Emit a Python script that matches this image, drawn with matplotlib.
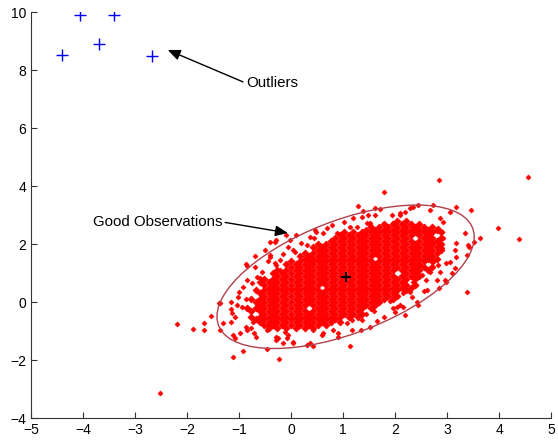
import numpy as np
import matplotlib
matplotlib.use('Agg')
import matplotlib.pyplot as plt
from matplotlib.patches import Ellipse

plt.rcParams['font.family'] = ['Liberation Sans', 'DejaVu Sans']

# outliers (blue +)
out_x = [-4.40, -4.05, -3.40, -3.70, -2.68]
out_y = [8.52, 9.90, 9.90, 8.90, 8.48]

# dense core of the good observations, one row per y level
core_y = [2.8, 2.7, 2.6, 2.5, 2.4, 2.3, 2.2, 2.1, 2.0, 1.9, 1.8, 1.7, 1.6, 1.5,
          1.4, 1.3, 1.2, 1.1, 1.0, 0.9, 0.8, 0.7, 0.6, 0.5, 0.4, 0.3, 0.2,
          0.1, 0.0, -0.1, -0.2, -0.3, -0.4, -0.5, -0.6, -0.7, -0.8, -0.9]
core_x = [
    [2.04, 2.21],
    [1.79, 1.96, 2.13, 2.3, 2.47],
    [1.53, 1.7, 1.87, 2.04, 2.21, 2.38, 2.55, 2.72],
    [1.45, 1.62, 1.79, 1.96, 2.13, 2.3, 2.47, 2.64, 2.81],
    [1.02, 1.19, 1.36, 1.53, 1.7, 1.87, 2.04, 2.21, 2.38, 2.55, 2.72, 2.89],
    [0.94, 1.11, 1.28, 1.45, 1.62, 1.79, 1.96, 2.13, 2.3, 2.47, 2.64],
    [0.85, 1.02, 1.19, 1.36, 1.53, 1.7, 1.87, 2.04, 2.21, 2.55, 2.72, 2.89],
    [0.77, 0.94, 1.11, 1.28, 1.45, 1.62, 1.79, 1.96, 2.13, 2.3, 2.47, 2.64, 2.81],
    [0.51, 0.68, 0.85, 1.02, 1.19, 1.36, 1.53, 1.7, 1.87, 2.04, 2.21, 2.38, 2.55, 2.72, 2.89],
    [0.43, 0.6, 0.77, 0.94, 1.11, 1.28, 1.45, 1.62, 1.79, 1.96, 2.13, 2.3, 2.47, 2.64, 2.81],
    [0.51, 0.68, 0.85, 1.02, 1.19, 1.36, 1.53, 1.7, 1.87, 2.04, 2.21, 2.38, 2.55, 2.72, 2.89],
    [0.26, 0.43, 0.6, 0.77, 0.94, 1.11, 1.28, 1.45, 1.62, 1.79, 1.96, 2.13, 2.3, 2.47, 2.64, 2.81],
    [0.17, 0.34, 0.51, 0.68, 0.85, 1.02, 1.19, 1.36, 1.53, 1.7, 1.87, 2.04, 2.21, 2.38, 2.55, 2.72],
    [0.26, 0.43, 0.6, 0.77, 0.94, 1.11, 1.28, 1.45, 1.79, 1.96, 2.13, 2.3, 2.47, 2.64, 2.81],
    [0.0, 0.17, 0.34, 0.51, 0.68, 0.85, 1.02, 1.19, 1.36, 1.53, 1.7, 1.87, 2.04, 2.21, 2.38, 2.55, 2.72],
    [-0.09, 0.09, 0.26, 0.43, 0.6, 0.77, 0.94, 1.11, 1.28, 1.45, 1.62, 1.79, 1.96, 2.13, 2.3, 2.47],
    [0.0, 0.17, 0.34, 0.51, 0.68, 0.85, 1.02, 1.19, 1.36, 1.53, 1.7, 1.87, 2.04, 2.21, 2.38, 2.55, 2.72],
    [-0.26, -0.09, 0.09, 0.26, 0.43, 0.6, 0.77, 0.94, 1.11, 1.28, 1.45, 1.62, 1.79, 1.96, 2.13, 2.3, 2.47, 2.64],
    [-0.34, -0.17, 0.0, 0.17, 0.34, 0.51, 0.68, 0.85, 1.02, 1.19, 1.36, 1.53, 1.7, 1.87, 2.21, 2.38],
    [-0.26, -0.09, 0.09, 0.26, 0.43, 0.6, 0.77, 0.94, 1.11, 1.28, 1.45, 1.62, 1.79, 1.96, 2.13, 2.3, 2.47],
    [-0.51, -0.34, -0.17, 0.0, 0.17, 0.34, 0.51, 0.68, 0.85, 1.02, 1.19, 1.36, 1.53, 1.7, 1.87, 2.04, 2.21, 2.38],
    [-0.6, -0.43, -0.26, -0.09, 0.09, 0.26, 0.43, 0.6, 0.77, 0.94, 1.11, 1.28, 1.45, 1.62, 1.79, 1.96, 2.13],
    [-0.51, -0.34, -0.17, 0.0, 0.17, 0.34, 0.51, 0.68, 0.85, 1.02, 1.19, 1.36, 1.53, 1.7, 1.87, 2.04, 2.21, 2.38],
    [-0.43, -0.26, -0.09, 0.09, 0.26, 0.43, 0.77, 0.94, 1.11, 1.28, 1.45, 1.62, 1.79, 1.96, 2.13, 2.3],
    [-0.68, -0.51, -0.34, -0.17, 0.0, 0.17, 0.34, 0.51, 0.68, 0.85, 1.02, 1.19, 1.36, 1.53, 1.7, 1.87, 2.04, 2.21],
    [-0.6, -0.43, -0.26, -0.09, 0.09, 0.26, 0.43, 0.6, 0.77, 0.94, 1.11, 1.28, 1.45, 1.62, 1.79, 1.96],
    [-0.51, -0.34, -0.17, 0.0, 0.17, 0.34, 0.51, 0.68, 0.85, 1.02, 1.19, 1.36, 1.53, 1.7, 1.87, 2.04],
    [-0.77, -0.6, -0.43, -0.26, -0.09, 0.09, 0.26, 0.43, 0.6, 0.77, 0.94, 1.11, 1.28, 1.45, 1.62, 1.79, 1.96],
    [-0.68, -0.51, -0.34, -0.17, 0.0, 0.17, 0.34, 0.51, 0.68, 0.85, 1.02, 1.19, 1.36, 1.53, 1.7],
    [-0.6, -0.43, -0.26, -0.09, 0.09, 0.26, 0.43, 0.6, 0.77, 0.94, 1.11, 1.28, 1.45, 1.62],
    [-0.85, -0.68, -0.51, -0.34, -0.17, 0.0, 0.17, 0.51, 0.68, 0.85, 1.02, 1.19, 1.36, 1.53],
    [-0.77, -0.6, -0.43, -0.26, -0.09, 0.09, 0.26, 0.43, 0.6, 0.77, 0.94, 1.11, 1.28],
    [-0.51, -0.34, -0.17, 0.0, 0.17, 0.34, 0.51, 0.68, 0.85, 1.02, 1.19, 1.36],
    [-0.77, -0.6, -0.43, -0.26, -0.09, 0.09, 0.26, 0.43, 0.6, 0.77, 0.94, 1.11, 1.28],
    [-0.68, -0.51, -0.34, -0.17, 0.0, 0.17, 0.34, 0.51, 0.68, 0.85],
    [-0.6, -0.43, -0.26, -0.09, 0.09, 0.26, 0.43, 0.6, 0.77, 0.94],
    [-0.51, -0.34, -0.17, 0.0, 0.17, 0.34, 0.51, 0.68],
    [-0.43, -0.26, -0.09, 0.09, 0.26, 0.43],
]

# scattered good observations around the core
spread = [
    (-2.52, -3.15), (-2.20, -0.76), (-1.88, -0.93), (-1.67, -0.71), (-1.67, -0.97),
    (-1.53, -0.47), (-1.38, -0.02), (-1.37, -0.97), (-1.16, 0.01), (-1.16, -0.24),
    (-1.16, -0.68), (-1.02, 0.18), (-1.04, -0.10), (-0.95, -0.17), (-0.87, 0.10),
    (-1.12, -1.14), (-1.08, -1.24), (-0.98, -1.06), (-0.87, -0.86), (-0.73, -0.68),
    (-0.76, -0.90), (-0.67, -1.20), (-0.93, -1.68), (-1.12, -1.89), (-0.47, -1.63),
    (-0.23, -1.97), (-0.29, -1.31), (-0.47, -0.97), (-0.44, -0.79), (-0.25, -1.24),
    (-0.69, 1.60), (-0.40, 1.62), (-0.87, 1.31), (-0.85, 1.24), (-0.29, 1.28),
    (-0.60, 0.83), (-0.66, 0.87), (-0.92, 0.53), (-1.37, -0.05), (-1.14, -0.39),
    (-1.08, -0.51), (-1.30, -0.73), (-0.85, -0.97), (-0.72, -1.08), (-0.28, -1.20),
    (-0.15, -1.43), (0.04, -1.37), (-0.21, 1.10), (-0.40, 1.56), (-0.21, 1.45),
    (-0.05, 1.91), (0.08, 1.73), (0.37, 2.25), (0.49, 2.42), (0.69, 2.54),
    (0.78, 2.66), (1.01, 2.77), (1.20, 2.89), (1.36, 2.94), (1.62, 3.00),
    (-0.40, 2.08), (-0.28, 2.14), (-0.02, 2.14), (1.13, -1.51), (0.91, -1.22),
    (0.37, -1.43), (0.30, -1.48), (0.43, -1.52), (0.04, -1.43), (-0.12, -1.02),
    (-0.05, -1.14), (-0.08, -1.25), (0.43, -0.97), (0.62, -1.08), (0.81, -0.97),
    (1.17, -0.97), (1.52, -0.85), (1.78, -0.51), (1.36, -0.62), (1.07, -0.73),
    (1.17, -0.62), (2.03, -0.16), (0.91, -1.08), (0.59, -1.14), (0.78, -0.62),
    (0.45, 2.20), (0.62, 2.37), (0.88, 2.37), (1.26, 2.60), (1.52, 2.73),
    (-0.31, 2.08), (-0.31, 1.33), (0.04, 1.79), (1.78, 3.80), (1.29, 3.31),
    (1.39, 3.15), (1.49, 3.00), (1.62, 3.23), (1.71, 3.20), (0.46, 2.48),
    (1.13, 2.60), (1.46, 2.71), (1.52, 2.66), (1.97, 2.71), (2.10, 3.06),
    (1.94, 3.00), (2.85, 4.21), (3.46, 3.17), (3.99, 2.56), (3.63, 2.20),
    (3.39, 0.36), (3.18, 3.29), (3.06, 3.11), (2.87, 2.89), (2.93, 2.77),
    (2.74, 3.34), (2.67, 3.17), (2.45, 3.34), (2.29, 3.23), (2.35, 3.29),
    (2.19, 3.11), (2.10, 3.00), (3.35, 2.37), (3.41, 1.97), (3.43, 1.91),
    (3.51, 2.08), (3.18, 2.02), (3.15, 1.79), (3.38, 1.62), (3.18, 1.56),
    (2.99, 1.33), (3.06, 1.39), (2.83, 1.28), (2.87, 1.04), (3.15, 1.16),
    (2.96, 0.76), (2.99, 0.70), (2.80, 0.76), (2.61, 0.41), (2.55, 0.38),
    (2.42, 0.01), (2.45, -0.10), (2.10, -0.10), (2.16, -0.16), (1.97, -0.22),
    (2.83, 2.55), (2.90, 2.42), (2.93, 2.20), (2.90, 1.85), (2.67, 1.85),
    (2.74, 2.08), (2.71, 1.56), (2.74, 1.39), (2.67, 1.04), (2.48, 1.28),
    (2.51, 0.93), (2.35, 0.70), (2.29, 0.36), (2.32, 0.18), (4.56, 4.30),
    (4.38, 2.17),
    (-0.55, 1.05), (-0.70, 1.20), (-0.45, 1.40), (-0.15, 1.65), (-0.10, 2.30),
    (0.20, 2.05), (0.10, 2.30), (0.30, 1.95), (-0.75, 0.65), (-1.00, 0.35),
    (-0.85, 0.75), (-0.50, 1.80), (1.60, -0.30), (1.90, 0.05), (2.15, 0.30),
    (2.40, 0.60), (2.60, 0.75), (2.20, -0.45), (1.35, -0.95), (1.65, -0.65),
    (2.85, 0.50), (3.10, 1.00), (2.00, -0.35), (1.45, -0.40),
]

# fitted mean and confidence ellipse
mean_xy = (1.05, 0.87)
ell_width = 6.17
ell_height = 3.30
ell_angle = 45

fig = plt.figure(figsize=(5.58, 4.46), dpi=100)
ax = fig.add_axes([31/558, 28/446, 520/558, 406/446])

red = '#ff0000'
for y, xs in zip(core_y, core_x):
    ax.plot(xs, [y]*len(xs), 'D', color=red, ms=3.5, mew=0.6, ls='none', zorder=2)
sp = np.array(spread)
ax.plot(sp[:, 0], sp[:, 1], 'D', color=red, ms=2.5, mew=0.5, ls='none', zorder=2)

ax.add_patch(Ellipse(mean_xy, ell_width, ell_height, angle=ell_angle,
                     fill=False, ec='#b0404a', lw=1.0, zorder=3))
ax.plot(mean_xy[0], mean_xy[1], '+', color='black', ms=7, mew=1.5, zorder=4)

ax.plot(out_x, out_y, '+', color='#0000ee', ms=8, mew=1.0, ls='none')

ax.annotate('Outliers', xy=(-2.37, 8.69), xytext=(-0.87, 7.55),
            ha='left', va='center', fontsize=10.8,
            arrowprops=dict(arrowstyle='-|>,head_length=0.7,head_width=0.3',
                            color='black', lw=1, shrinkA=0, shrinkB=0,
                            relpos=(0, 0.5)))
ax.annotate('Good Observations', xy=(-0.06, 2.38), xytext=(-3.81, 2.76),
            ha='left', va='center', fontsize=10.8,
            arrowprops=dict(arrowstyle='-|>,head_length=0.7,head_width=0.3',
                            color='black', lw=1, shrinkA=0, shrinkB=0,
                            relpos=(1, 0.5)))

ax.set_xlim(-5, 5)
ax.set_ylim(-4, 10)
ax.set_xticks(np.arange(-5, 6, 1))
ax.set_yticks(np.arange(-4, 11, 2))
ax.spines['top'].set_visible(False)
ax.spines['right'].set_visible(False)
for s in ['left', 'bottom']:
    ax.spines[s].set_color('#333333')
ax.tick_params(direction='in', length=4, labelsize=10, colors='#333333',
               labelcolor='black')

fig.savefig('out.png', dpi=100)
